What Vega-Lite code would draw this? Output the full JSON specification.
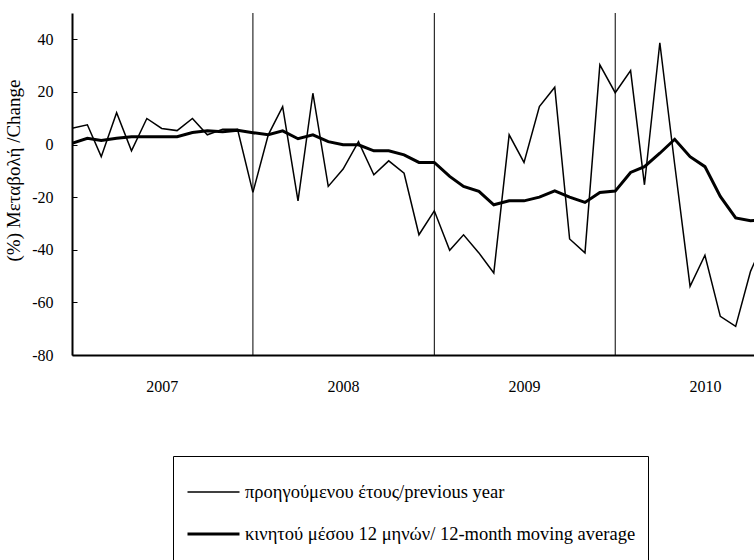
{
  "$schema": "https://vega.github.io/schema/vega-lite/v6.json",
  "width": 682,
  "height": 342,
  "autosize": {"type": "none"},
  "padding": {"left": 72, "top": 13, "right": 0, "bottom": 205},
  "background": "white",
  "config": {
    "font": "Liberation Serif",
    "view": {"stroke": null},
    "axis": {"grid": false, "labelColor": "black", "titleColor": "black"}
  },
  "datasets": {
    "series": [
      {"date": "2007-01-01", "series": "prev", "value": 6.2},
      {"date": "2007-02-01", "series": "prev", "value": 7.5},
      {"date": "2007-03-01", "series": "prev", "value": -4.6},
      {"date": "2007-04-01", "series": "prev", "value": 12.1},
      {"date": "2007-05-01", "series": "prev", "value": -2.4},
      {"date": "2007-06-01", "series": "prev", "value": 9.9},
      {"date": "2007-07-01", "series": "prev", "value": 6.1},
      {"date": "2007-08-01", "series": "prev", "value": 5.3},
      {"date": "2007-09-01", "series": "prev", "value": 9.9},
      {"date": "2007-10-01", "series": "prev", "value": 3.7},
      {"date": "2007-11-01", "series": "prev", "value": 5.8},
      {"date": "2007-12-01", "series": "prev", "value": 5.8},
      {"date": "2008-01-01", "series": "prev", "value": -18.2},
      {"date": "2008-02-01", "series": "prev", "value": 3.7},
      {"date": "2008-03-01", "series": "prev", "value": 14.4},
      {"date": "2008-04-01", "series": "prev", "value": -21.4},
      {"date": "2008-05-01", "series": "prev", "value": 19.5},
      {"date": "2008-06-01", "series": "prev", "value": -15.9},
      {"date": "2008-07-01", "series": "prev", "value": -9.3},
      {"date": "2008-08-01", "series": "prev", "value": 1.1},
      {"date": "2008-09-01", "series": "prev", "value": -11.5},
      {"date": "2008-10-01", "series": "prev", "value": -6.2},
      {"date": "2008-11-01", "series": "prev", "value": -10.9},
      {"date": "2008-12-01", "series": "prev", "value": -34.3},
      {"date": "2009-01-01", "series": "prev", "value": -25.2},
      {"date": "2009-02-01", "series": "prev", "value": -40.2},
      {"date": "2009-03-01", "series": "prev", "value": -34.3},
      {"date": "2009-04-01", "series": "prev", "value": -41.2},
      {"date": "2009-05-01", "series": "prev", "value": -48.8},
      {"date": "2009-06-01", "series": "prev", "value": 3.7},
      {"date": "2009-07-01", "series": "prev", "value": -6.8},
      {"date": "2009-08-01", "series": "prev", "value": 14.4},
      {"date": "2009-09-01", "series": "prev", "value": 21.8},
      {"date": "2009-10-01", "series": "prev", "value": -35.9},
      {"date": "2009-11-01", "series": "prev", "value": -41.2},
      {"date": "2009-12-01", "series": "prev", "value": 30.3},
      {"date": "2010-01-01", "series": "prev", "value": 19.7},
      {"date": "2010-02-01", "series": "prev", "value": 28.1},
      {"date": "2010-03-01", "series": "prev", "value": -15.3},
      {"date": "2010-04-01", "series": "prev", "value": 38.7},
      {"date": "2010-05-01", "series": "prev", "value": -7.6},
      {"date": "2010-06-01", "series": "prev", "value": -53.9},
      {"date": "2010-07-01", "series": "prev", "value": -42.1},
      {"date": "2010-08-01", "series": "prev", "value": -65.3},
      {"date": "2010-09-01", "series": "prev", "value": -69.1},
      {"date": "2010-10-01", "series": "prev", "value": -48.2},
      {"date": "2010-11-01", "series": "prev", "value": -35.0},
      {"date": "2007-01-01", "series": "ma", "value": 0.5},
      {"date": "2007-02-01", "series": "ma", "value": 2.4},
      {"date": "2007-03-01", "series": "ma", "value": 1.5},
      {"date": "2007-04-01", "series": "ma", "value": 2.4},
      {"date": "2007-05-01", "series": "ma", "value": 3.0},
      {"date": "2007-06-01", "series": "ma", "value": 3.0},
      {"date": "2007-07-01", "series": "ma", "value": 3.0},
      {"date": "2007-08-01", "series": "ma", "value": 3.0},
      {"date": "2007-09-01", "series": "ma", "value": 4.6},
      {"date": "2007-10-01", "series": "ma", "value": 5.2},
      {"date": "2007-11-01", "series": "ma", "value": 4.9},
      {"date": "2007-12-01", "series": "ma", "value": 5.4},
      {"date": "2008-01-01", "series": "ma", "value": 4.5},
      {"date": "2008-02-01", "series": "ma", "value": 3.7},
      {"date": "2008-03-01", "series": "ma", "value": 5.2},
      {"date": "2008-04-01", "series": "ma", "value": 2.2},
      {"date": "2008-05-01", "series": "ma", "value": 3.7},
      {"date": "2008-06-01", "series": "ma", "value": 1.1},
      {"date": "2008-07-01", "series": "ma", "value": -0.1},
      {"date": "2008-08-01", "series": "ma", "value": -0.1},
      {"date": "2008-09-01", "series": "ma", "value": -2.4},
      {"date": "2008-10-01", "series": "ma", "value": -2.4},
      {"date": "2008-11-01", "series": "ma", "value": -3.9},
      {"date": "2008-12-01", "series": "ma", "value": -6.8},
      {"date": "2009-01-01", "series": "ma", "value": -6.8},
      {"date": "2009-02-01", "series": "ma", "value": -12.1},
      {"date": "2009-03-01", "series": "ma", "value": -15.9},
      {"date": "2009-04-01", "series": "ma", "value": -17.8},
      {"date": "2009-05-01", "series": "ma", "value": -22.9},
      {"date": "2009-06-01", "series": "ma", "value": -21.4},
      {"date": "2009-07-01", "series": "ma", "value": -21.4},
      {"date": "2009-08-01", "series": "ma", "value": -20.0},
      {"date": "2009-09-01", "series": "ma", "value": -17.6},
      {"date": "2009-10-01", "series": "ma", "value": -20.0},
      {"date": "2009-11-01", "series": "ma", "value": -22.0},
      {"date": "2009-12-01", "series": "ma", "value": -18.2},
      {"date": "2010-01-01", "series": "ma", "value": -17.7},
      {"date": "2010-02-01", "series": "ma", "value": -10.6},
      {"date": "2010-03-01", "series": "ma", "value": -8.4},
      {"date": "2010-04-01", "series": "ma", "value": -3.3},
      {"date": "2010-05-01", "series": "ma", "value": 2.0},
      {"date": "2010-06-01", "series": "ma", "value": -4.6},
      {"date": "2010-07-01", "series": "ma", "value": -8.4},
      {"date": "2010-08-01", "series": "ma", "value": -19.7},
      {"date": "2010-09-01", "series": "ma", "value": -27.9},
      {"date": "2010-10-01", "series": "ma", "value": -29.0},
      {"date": "2010-11-01", "series": "ma", "value": -28.5}
    ],
    "dividers": [
      {"date": "2008-01-01"},
      {"date": "2009-01-01"},
      {"date": "2010-01-01"}
    ]
  },
  "layer": [
    {
      "mark": {"type": "rule", "color": "#7f7f7f", "strokeWidth": 1},
      "encoding": {"y": {"datum": 0, "type": "quantitative"}}
    },
    {
      "mark": {"type": "rule", "color": "black", "strokeWidth": 1.5},
      "encoding": {"y": {"datum": 50, "type": "quantitative"}}
    },
    {
      "data": {"name": "dividers"},
      "mark": {"type": "rule", "color": "black", "strokeWidth": 1},
      "encoding": {"x": {"field": "date", "type": "temporal"}}
    },
    {
      "data": {"name": "series"},
      "mark": {"type": "line", "color": "black", "clip": true, "strokeJoin": "miter"},
      "encoding": {
        "x": {
          "field": "date",
          "type": "temporal",
          "scale": {
            "type": "utc",
            "domain": [
              {"year": 2007, "month": 1, "date": 1, "utc": true},
              {"year": 2010, "month": 10, "date": 8, "utc": true}
            ]
          },
          "axis": {
            "title": null,
            "values": [
              {"year": 2007, "month": 7, "date": 1, "utc": true},
              {"year": 2008, "month": 7, "date": 1, "utc": true},
              {"year": 2009, "month": 7, "date": 1, "utc": true},
              {"year": 2010, "month": 7, "date": 1, "utc": true}
            ],
            "format": "%Y",
            "ticks": false,
            "domainColor": "black",
            "domainWidth": 2,
            "labelFont": "Liberation Serif",
            "labelFontSize": 16,
            "labelPadding": 23,
            "labelColor": "black"
          }
        },
        "y": {
          "field": "value",
          "type": "quantitative",
          "scale": {"domain": [-80, 50], "nice": false, "zero": false},
          "axis": {
            "title": "(%) Μεταβολή /Change",
            "titleFont": "Liberation Serif",
            "titleFontSize": 19,
            "titleFontWeight": "normal",
            "titlePadding": 8,
            "titleY": 157,
            "values": [-80, -60, -40, -20, 0, 20, 40],
            "labelExpr": "'' + datum.value",
            "domainColor": "black",
            "domainWidth": 2,
            "tickColor": "black",
            "tickSize": -5,
            "labelPadding": 24,
            "labelFont": "Liberation Serif",
            "labelFontSize": 16,
            "labelColor": "black"
          }
        },
        "strokeWidth": {
          "field": "series",
          "type": "ordinal",
          "scale": {"domain": ["prev", "ma", "blank"], "range": [1.5, 4.5, 0]},
          "legend": {
            "orient": "none",
            "legendX": 101,
            "legendY": 443,
            "title": " ",
            "titleFontSize": 8,
            "titlePadding": 6,
            "padding": 12,
            "strokeColor": "black",
            "fillColor": "white",
            "symbolType": "stroke",
            "symbolSize": 2704,
            "symbolStrokeColor": "black",
            "clipHeight": 20,
            "rowPadding": 22,
            "labelOffset": 3,
            "labelFont": "Liberation Serif",
            "labelFontSize": 18.5,
            "labelColor": "black",
            "labelLimit": 600,
            "labelExpr": "datum.label == 'prev' ? 'προηγούμενου έτους/previous year' : datum.label == 'ma' ? 'κινητού μέσου 12 μηνών/ 12-month moving average' : ''"
          }
        }
      }
    }
  ]
}
